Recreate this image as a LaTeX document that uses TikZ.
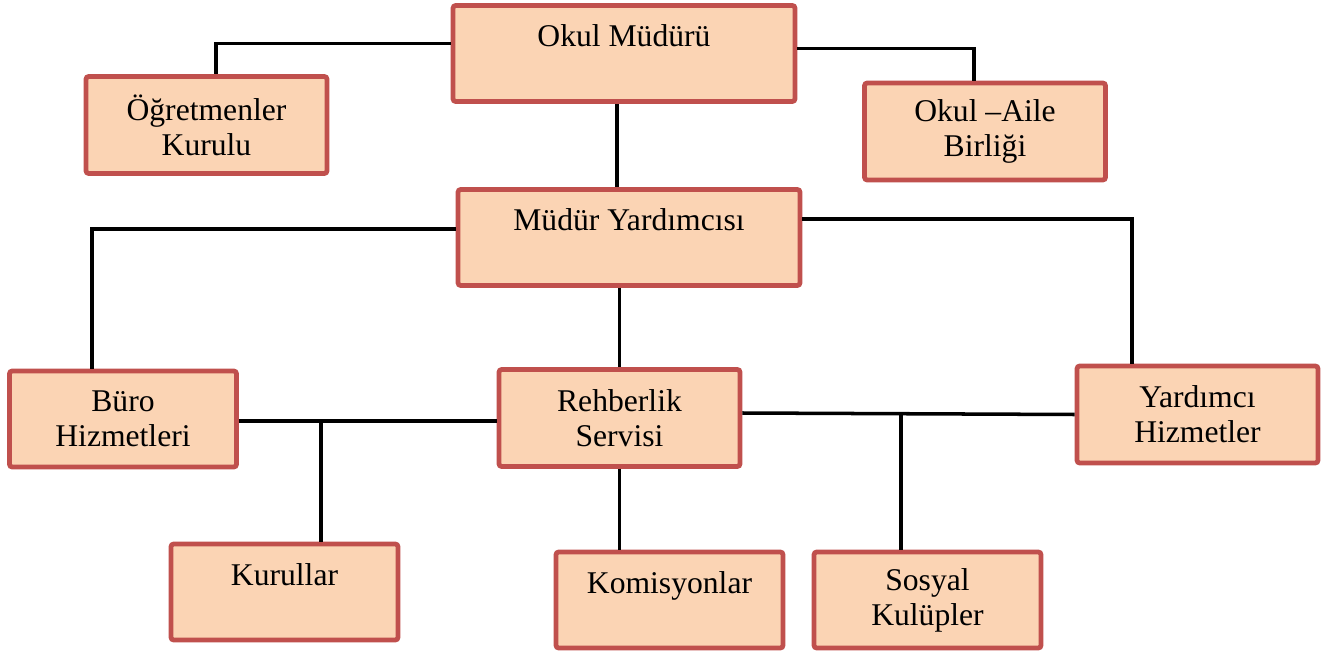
\documentclass[tikz,border=0pt]{standalone}
\usepackage{fontspec}
\setmainfont{Liberation Serif}
\definecolor{boxfill}{HTML}{FBD4B4}
\definecolor{boxline}{HTML}{C0504D}

\begin{document}
\begin{tikzpicture}[x=0.02cm,y=-0.02cm,line width=2pt]
		\tikzstyle{unit}=[rectangle,draw=boxline,fill=boxfill,line width=2.7pt,rounded corners=1.5pt,
			align=center,inner sep=0pt,font=\fontsize{18}{20}\selectfont]
		\tikzstyle{head unit}=[unit, minimum width=6.84cm, minimum height=1.92cm];
		\tikzstyle{side unit}=[unit, minimum width=4.82cm, minimum height=1.94cm];
		\tikzstyle{low unit}=[unit, minimum width=4.54cm, minimum height=1.92cm];
		\tikzstyle{link}=[draw=black,line width=2pt]
		
		\useasboundingbox (0,0) rectangle (1325,655);
		
		% Draw the top level
		\node[head unit] (mudur) at (624,53.5) {Okul Müdürü\\\mbox{}};
		\node[side unit] (ogretmen) at (206.5,125) {Öğretmenler\\Kurulu};
		\node[side unit] (aile) at (985,131.5) {Okul –Aile\\Birliği};
		
		% Draw the assistant
		\node[head unit] (yardimci) at (629,237.5) {Müdür Yardımcısı\\\mbox{}};
		
		% Draw the services
		\node[low unit] (buro) at (123,419) {Büro\\Hizmetleri};
		\node[side unit] (rehber) at (619.5,418) {Rehberlik\\Servisi};
		\node[side unit] (hizmet) at (1197.5,414.5) {Yardımcı\\Hizmetler};
		
		% Draw the bottom level
		\node[low unit] (kurul) at (284.5,592) {Kurullar\\\mbox{}};
		\node[low unit] (komisyon) at (669.5,600) {Komisyonlar\\\mbox{}};
		\node[low unit] (sosyal) at (927.5,600) {Sosyal\\Kulüpler};
		
		% Connect the top level
		\path[link] ([yshift=0.2cm]mudur.west) -| ([xshift=0.19cm]ogretmen.north);
		\path[link] ([yshift=0.1cm]mudur.east) -| ([xshift=-0.22cm]aile.north);
		\path[link] ([xshift=-0.14cm]mudur.south) -- ([xshift=-0.14cm]mudur.south |- yardimci.north);
		
		% Connect the assistant with the services
		\path[link] ([yshift=0.17cm]yardimci.west) -| ([xshift=-0.62cm]buro.north);
		\path[link] ([yshift=0.37cm]yardimci.east) -| ([xshift=-1.31cm]hizmet.north);
		\path[link] (rehber.north |- yardimci.south) -- (rehber.north);
		
		% Connect the services with each other
		\path[link] ([yshift=-0.04cm]buro.east) -- ([yshift=-0.04cm]buro.east -| rehber.west);
		\path[link] ([yshift=0.1cm]rehber.east) -- (hizmet.west);
		
		% Connect the bottom level
		\path[link] ([xshift=0.73cm]kurul.north) -- ([xshift=0.73cm,yshift=-0.08cm]kurul.north |- buro.east);
		\path[link] (rehber.south) -- (rehber.south |- komisyon.north);
		\path[link] ([xshift=-0.53cm]sosyal.north) -- ([xshift=-0.53cm]sosyal.north |- hizmet.west);
\end{tikzpicture}
\end{document}
